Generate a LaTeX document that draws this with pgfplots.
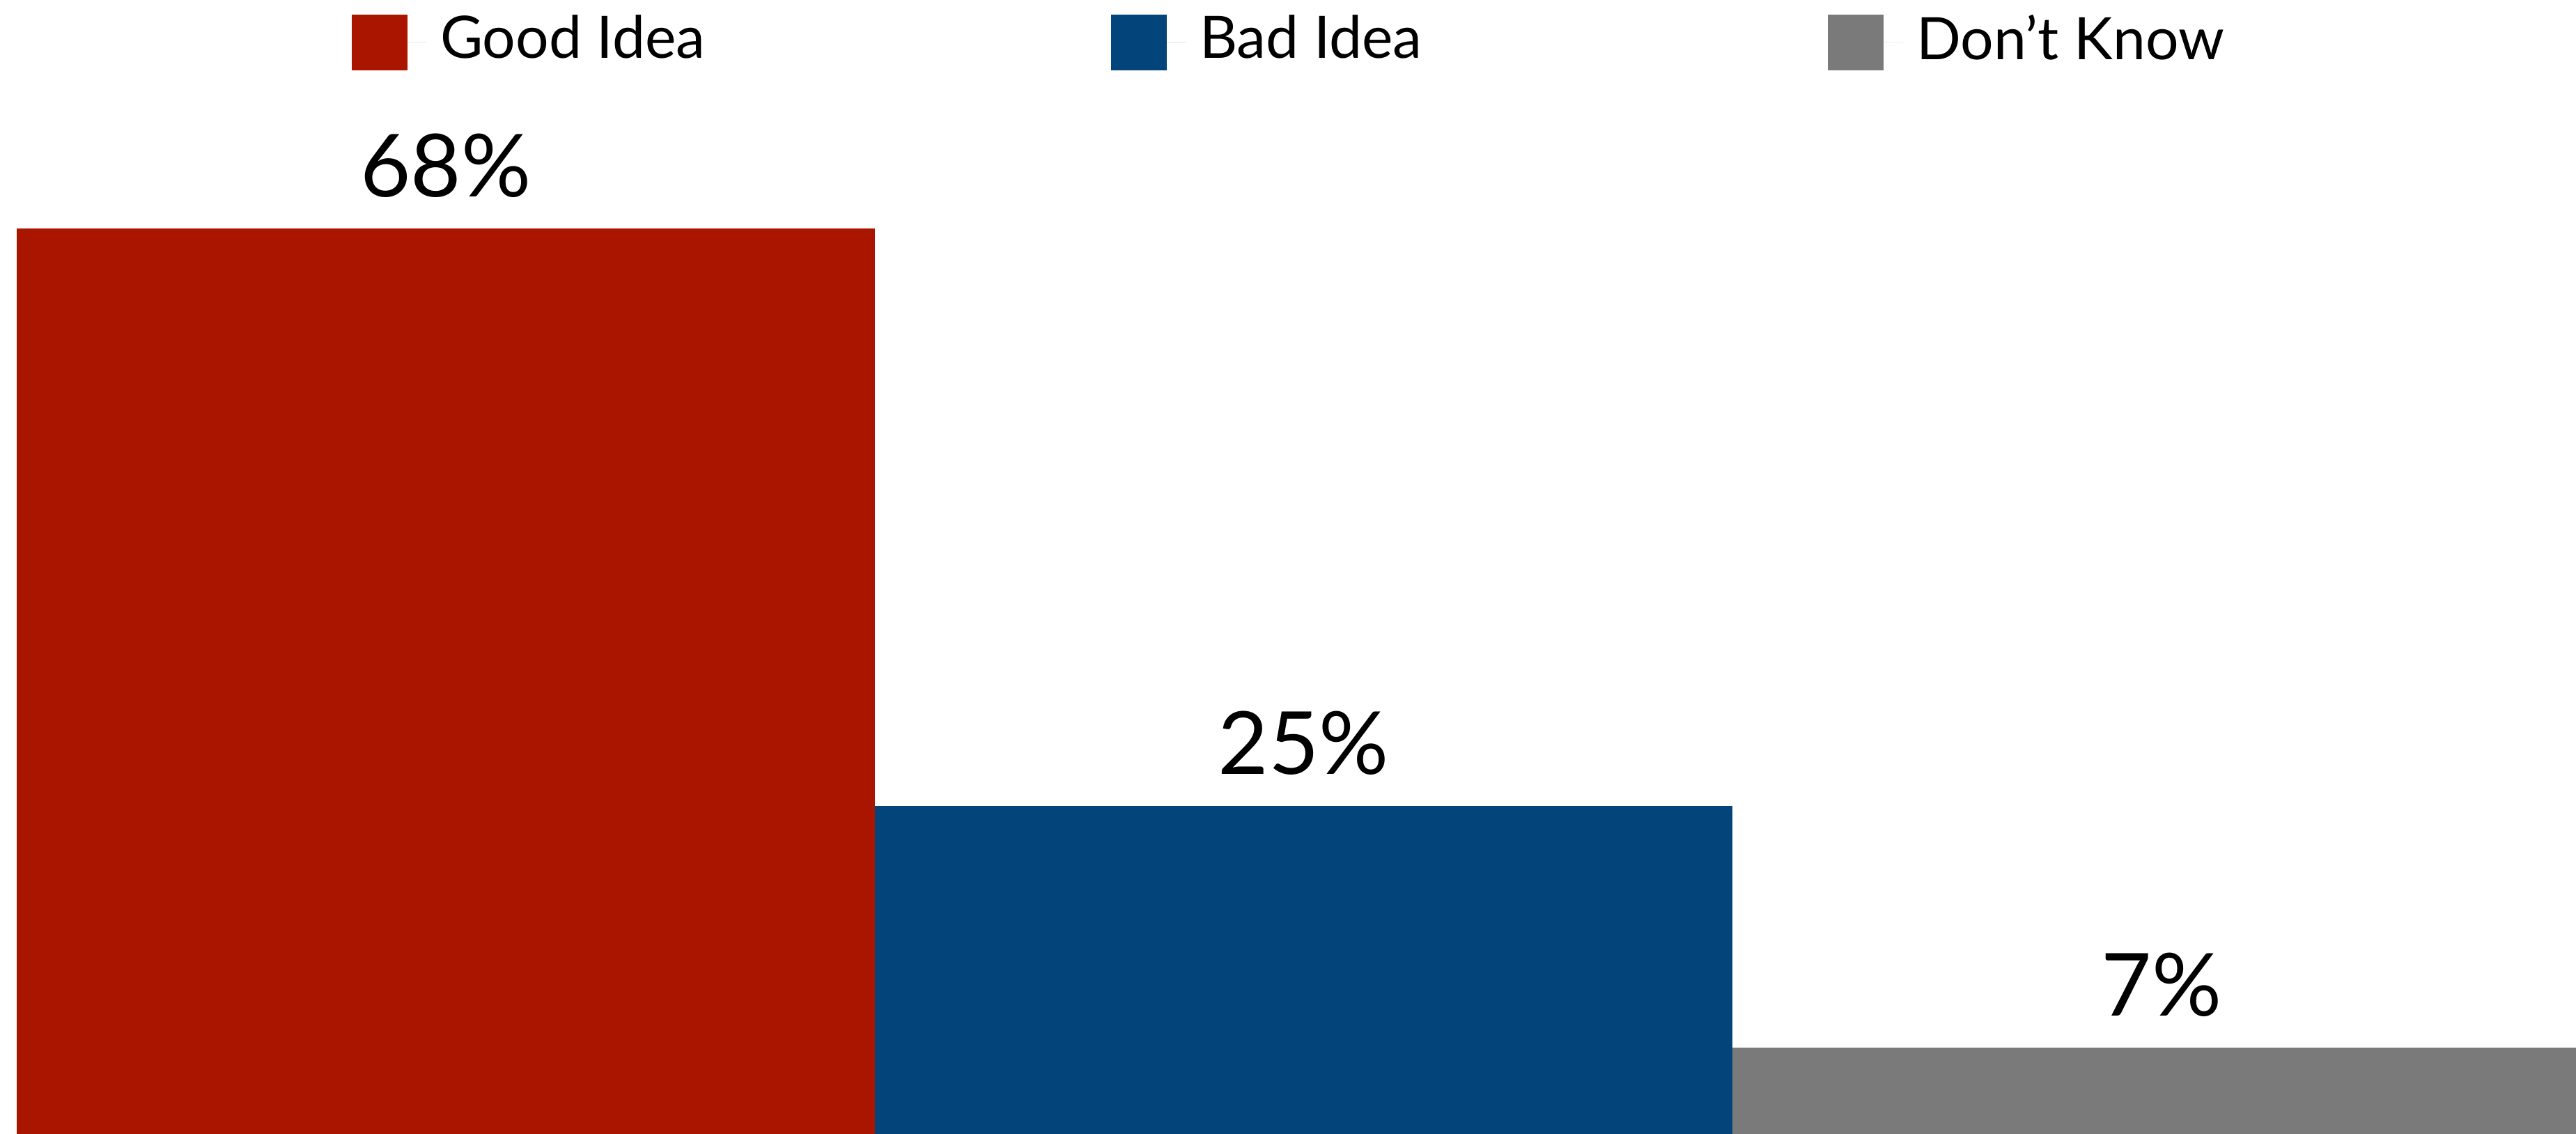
\documentclass[border=0pt]{standalone}
\usepackage{pgfplots}
\pgfplotsset{compat=1.18}
\usepackage{fontspec}
\setmainfont{Lato}
\definecolor{cRed}{HTML}{AA1500}
\definecolor{cBlue}{HTML}{03457A}
\definecolor{cGray}{HTML}{7A7A7A}
\pgfplotsset{sqlegend/.style={legend image code/.code={\path (0pt,0pt) -- (10.7pt,0pt);\fill[##1] (0pt,-4pt) rectangle (8pt,4pt);}}}
\begin{document}
\begin{tikzpicture}
\begin{axis}[
  width=369.8pt, height=162.8pt, scale only axis,
  xmin=-0.5195, xmax=2.483, ymin=0.57, ymax=85,
  hide axis,
  ybar, bar width=1, bar shift=0pt,
  /pgf/number format/assume math mode=true,
  nodes near coords={\pgfmathprintnumber{\pgfplotspointmeta}\%},
  nodes near coords style={anchor=base, inner sep=0pt, yshift=4.5pt, font=\fontsize{12.5}{14}\selectfont, text=black},
  legend style={draw=none, at={(0.5,1)}, anchor=north, yshift=-0.1pt, xshift=1pt, legend columns=3,
    font=\fontsize{8.4}{10}\selectfont, inner sep=0pt, outer sep=0pt,
    /tikz/every even column/.append style={column sep=56.3pt}},
]
\addplot[fill=cRed, draw=none, sqlegend] coordinates {(0,68)};
\addplot[fill=cBlue, draw=none, sqlegend] coordinates {(1,25)};
\addplot[fill=cGray, draw=none, sqlegend] coordinates {(2,7)};
\legend{Good Idea, Bad Idea, Don't Know}
\end{axis}
\pgfresetboundingbox
\path[use as bounding box] (current axis.south west) rectangle (current axis.north east);
\end{tikzpicture}
\end{document}
